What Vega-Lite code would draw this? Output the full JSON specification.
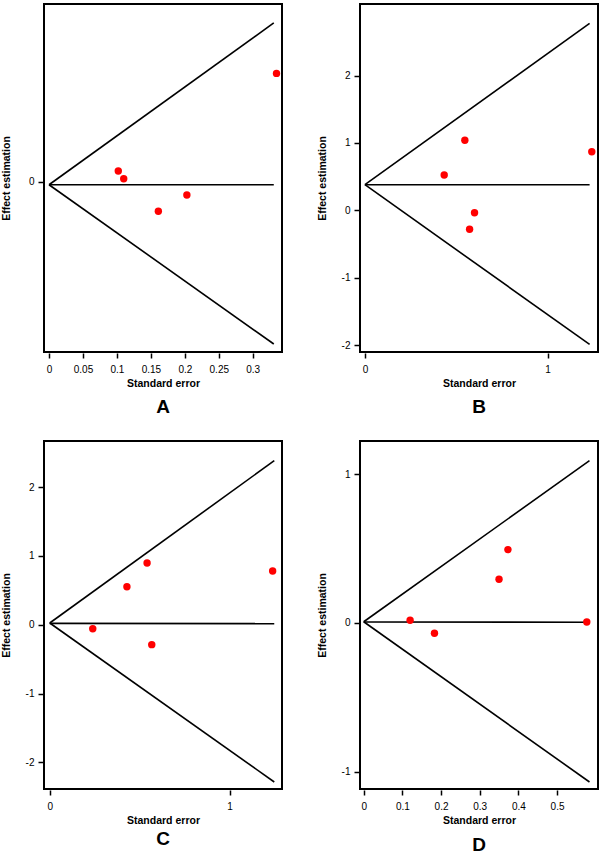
{
  "$schema": "https://vega.github.io/schema/vega-lite/v6.json",
  "padding": {"left": 0, "top": 3, "right": 0, "bottom": 0},
  "background": "white",
  "datasets": {
    "points": [
      {"panel": "A", "se": 0.335, "est": 0.435},
      {"panel": "A", "se": 0.102, "est": 0.044},
      {"panel": "A", "se": 0.110, "est": 0.013},
      {"panel": "A", "se": 0.161, "est": -0.117},
      {"panel": "A", "se": 0.203, "est": -0.052},
      {"panel": "B", "se": 0.547, "est": 1.04},
      {"panel": "B", "se": 0.434, "est": 0.524},
      {"panel": "B", "se": 0.600, "est": -0.036},
      {"panel": "B", "se": 0.573, "est": -0.28},
      {"panel": "B", "se": 1.242, "est": 0.87},
      {"panel": "C", "se": 0.239, "est": -0.058},
      {"panel": "C", "se": 0.429, "est": 0.552},
      {"panel": "C", "se": 0.541, "est": 0.897},
      {"panel": "C", "se": 0.567, "est": -0.29},
      {"panel": "C", "se": 1.239, "est": 0.78},
      {"panel": "D", "se": 0.120, "est": 0.018},
      {"panel": "D", "se": 0.183, "est": -0.069},
      {"panel": "D", "se": 0.350, "est": 0.294},
      {"panel": "D", "se": 0.373, "est": 0.493},
      {"panel": "D", "se": 0.577, "est": 0.007}
    ],
    "lines": [
      {"panel": "A", "seg": "upper", "se": 0, "est": -0.011},
      {"panel": "A", "seg": "upper", "se": 0.331, "est": 0.637},
      {"panel": "A", "seg": "center", "se": 0, "est": -0.011},
      {"panel": "A", "seg": "center", "se": 0.331, "est": -0.011},
      {"panel": "A", "seg": "lower", "se": 0, "est": -0.011},
      {"panel": "A", "seg": "lower", "se": 0.331, "est": -0.649},
      {"panel": "B", "seg": "upper", "se": 0, "est": 0.38},
      {"panel": "B", "seg": "upper", "se": 1.23, "est": 2.775},
      {"panel": "B", "seg": "center", "se": 0, "est": 0.38},
      {"panel": "B", "seg": "center", "se": 1.23, "est": 0.38},
      {"panel": "B", "seg": "lower", "se": 0, "est": 0.38},
      {"panel": "B", "seg": "lower", "se": 1.23, "est": -1.99},
      {"panel": "C", "seg": "upper", "se": 0, "est": 0.025},
      {"panel": "C", "seg": "upper", "se": 1.248, "est": 2.384},
      {"panel": "C", "seg": "center", "se": 0, "est": 0.02},
      {"panel": "C", "seg": "center", "se": 1.248, "est": 0.015},
      {"panel": "C", "seg": "lower", "se": 0, "est": 0.025},
      {"panel": "C", "seg": "lower", "se": 1.248, "est": -2.286},
      {"panel": "D", "seg": "upper", "se": 0, "est": 0.008},
      {"panel": "D", "seg": "upper", "se": 0.584, "est": 1.091},
      {"panel": "D", "seg": "center", "se": 0, "est": 0.006},
      {"panel": "D", "seg": "center", "se": 0.584, "est": 0.005},
      {"panel": "D", "seg": "lower", "se": 0, "est": 0.008},
      {"panel": "D", "seg": "lower", "se": 0.584, "est": -1.069}
    ]
  },
  "columns": 2,
  "spacing": {"row": 89, "column": 78},
  "bounds": "flush",
  "concat": [
    {
      "width": 238, "height": 348,
      "title": {"text": "A", "orient": "bottom", "offset": 9},
      "encoding": {
        "x": {"field": "se", "type": "quantitative", "title": "Standard error",
              "scale": {"domain": [-0.0074, 0.3431], "nice": false, "zero": false},
              "axis": {"values": [0, 0.05, 0.1, 0.15, 0.2, 0.25, 0.3]}},
        "y": {"field": "est", "type": "quantitative", "title": "Effect estimation",
              "scale": {"domain": [-0.681, 0.713], "nice": false, "zero": false},
              "axis": {"values": [0]}}
      },
      "layer": [
        {"data": {"name": "lines"}, "transform": [{"filter": "datum.panel === 'A'"}],
         "mark": {"type": "line", "color": "black", "strokeWidth": 1.6},
         "encoding": {"detail": {"field": "seg"}}},
        {"data": {"name": "points"}, "transform": [{"filter": "datum.panel === 'A'"}],
         "mark": {"type": "circle", "color": "#ff0000", "size": 55, "opacity": 1}}
      ]
    },
    {
      "width": 238, "height": 348,
      "title": {"text": "B", "orient": "bottom", "offset": 9},
      "encoding": {
        "x": {"field": "se", "type": "quantitative", "title": "Standard error",
              "scale": {"domain": [-0.027, 1.276], "nice": false, "zero": false},
              "axis": {"values": [0, 1]}},
        "y": {"field": "est", "type": "quantitative", "title": "Effect estimation",
              "scale": {"domain": [-2.102, 3.061], "nice": false, "zero": false},
              "axis": {"values": [-2, -1, 0, 1, 2]}}
      },
      "layer": [
        {"data": {"name": "lines"}, "transform": [{"filter": "datum.panel === 'B'"}],
         "mark": {"type": "line", "color": "black", "strokeWidth": 1.6},
         "encoding": {"detail": {"field": "seg"}}},
        {"data": {"name": "points"}, "transform": [{"filter": "datum.panel === 'B'"}],
         "mark": {"type": "circle", "color": "#ff0000", "size": 55, "opacity": 1}}
      ]
    },
    {
      "width": 238, "height": 348,
      "title": {"text": "C", "orient": "bottom", "offset": 4},
      "encoding": {
        "x": {"field": "se", "type": "quantitative", "title": "Standard error",
              "scale": {"domain": [-0.032, 1.291], "nice": false, "zero": false},
              "axis": {"values": [0, 1]}},
        "y": {"field": "est", "type": "quantitative", "title": "Effect estimation",
              "scale": {"domain": [-2.388, 2.670], "nice": false, "zero": false},
              "axis": {"values": [-2, -1, 0, 1, 2]}}
      },
      "layer": [
        {"data": {"name": "lines"}, "transform": [{"filter": "datum.panel === 'C'"}],
         "mark": {"type": "line", "color": "black", "strokeWidth": 1.6},
         "encoding": {"detail": {"field": "seg"}}},
        {"data": {"name": "points"}, "transform": [{"filter": "datum.panel === 'C'"}],
         "mark": {"type": "circle", "color": "#ff0000", "size": 55, "opacity": 1}}
      ]
    },
    {
      "width": 238, "height": 348,
      "title": {"text": "D", "orient": "bottom", "offset": 10},
      "encoding": {
        "x": {"field": "se", "type": "quantitative", "title": "Standard error",
              "scale": {"domain": [-0.0096, 0.606], "nice": false, "zero": false},
              "axis": {"values": [0, 0.1, 0.2, 0.3, 0.4, 0.5]}},
        "y": {"field": "est", "type": "quantitative", "title": "Effect estimation",
              "scale": {"domain": [-1.116, 1.223], "nice": false, "zero": false},
              "axis": {"values": [-1, 0, 1]}}
      },
      "layer": [
        {"data": {"name": "lines"}, "transform": [{"filter": "datum.panel === 'D'"}],
         "mark": {"type": "line", "color": "black", "strokeWidth": 1.6},
         "encoding": {"detail": {"field": "seg"}}},
        {"data": {"name": "points"}, "transform": [{"filter": "datum.panel === 'D'"}],
         "mark": {"type": "circle", "color": "#ff0000", "size": 55, "opacity": 1}}
      ]
    }
  ],
  "config": {
    "font": "Liberation Sans",
    "view": {"stroke": "black", "strokeWidth": 2},
    "axis": {
      "grid": false,
      "domain": false,
      "ticks": true,
      "tickColor": "black",
      "tickSize": 5,
      "tickWidth": 1.5,
      "offset": 1,
      "labelFont": "Liberation Sans",
      "labelFontSize": 10,
      "labelColor": "black",
      "labelPadding": 6,
      "labelExpr": "'' + datum.value",
      "titleFont": "Liberation Sans",
      "titleFontSize": 10.5,
      "titleFontWeight": "bold",
      "titleColor": "black"
    },
    "axisX": {"titlePadding": 4},
    "axisY": {"labelPadding": 4, "titleX": -32, "titleY": 174, "titleAngle": 270, "titleBaseline": "bottom", "titleAlign": "center"},
    "title": {"font": "Liberation Sans", "fontSize": 19, "fontWeight": "bold", "color": "black", "anchor": "middle", "baseline": "top"}
  }
}
